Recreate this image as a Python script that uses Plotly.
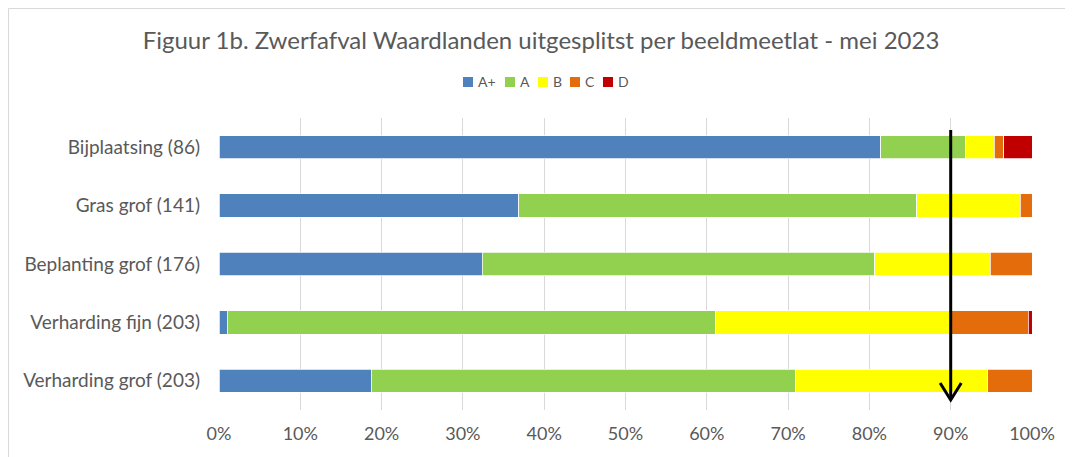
import plotly.graph_objects as go

# categorieen (van boven naar beneden) en aantallen per beeldmeetlat
categorieen = ["Bijplaatsing (86)", "Gras grof (141)", "Beplanting grof (176)",
               "Verharding fijn (203)", "Verharding grof (203)"]
a_plus = [70, 52, 57, 2, 38]
a = [9, 69, 85, 122, 106]
b = [3, 18, 25, 59, 48]
c = [1, 2, 9, 19, 11]
d = [3, 0, 0, 1, 0]

reeksen = [("A+", a_plus, "#4F81BD"), ("A", a, "#92D050"), ("B", b, "#FFFF00"),
           ("C", c, "#E46C0A"), ("D", d, "#C00000")]

tekstkleur = "#595959"
font = "Lato, 'Open Sans', sans-serif"

# plotgebied in schermpixels (pagina heeft 8px marge)
X0, X1, Y0, Y1 = 219, 1032, 118, 410


def px(sx):
    return (sx - X0) / (X1 - X0)


def py(sy):
    return (Y1 - sy) / (Y1 - Y0)


fig = go.Figure()
for naam, waarden, kleur in reeksen:
    fig.add_trace(go.Bar(y=categorieen, x=waarden, name=naam, orientation="h",
                         showlegend=False,
                         marker=dict(color=kleur, line=dict(color="white", width=0.75))))

fig.update_layout(
    barmode="stack", barnorm="percent", bargap=0.6,
    width=1073, height=457,
    margin=dict(l=X0 - 8, r=1073 - X1 + 8, t=Y0 - 8, b=457 - Y1 + 8, autoexpand=False),
    plot_bgcolor="white", paper_bgcolor="white",
    font=dict(family=font, color=tekstkleur),
    title=dict(text="Figuur 1b. Zwerfafval Waardlanden uitgesplitst per beeldmeetlat - mei 2023",
               x=px(541), xref="paper", xanchor="center",
               y=1 - 33 / 457, yanchor="middle",
               font=dict(size=24, color=tekstkleur)),
    xaxis=dict(range=[0, 100], dtick=10, ticksuffix="%", showgrid=True,
               gridcolor="#D9D9D9", gridwidth=1, zeroline=False, tickangle=0,
               tickfont=dict(size=18, color=tekstkleur), ticks="", ticklen=0,
               ticklabelstandoff=11),
    yaxis=dict(autorange="reversed", tickfont=dict(size=19, color=tekstkleur),
               ticks="", ticklabelstandoff=18, showgrid=False, zeroline=False),
)

# handmatige legenda (compact, zoals in Excel)
legenda_x = [463, 505, 538, 570, 603]
for (naam, _, kleur), lx in zip(reeksen, legenda_x):
    fig.add_shape(type="rect", xref="paper", yref="paper",
                  x0=px(lx), x1=px(lx + 10), y0=py(87), y1=py(77),
                  fillcolor=kleur, line=dict(width=0))
    fig.add_annotation(text=naam, xref="paper", yref="paper", x=px(lx + 13), y=py(82),
                       xanchor="left", yanchor="middle", showarrow=False,
                       font=dict(size=14, color=tekstkleur))

# norm-pijl op 90%
fig.add_shape(type="line", xref="x", yref="paper", x0=90, x1=90, y0=py(399), y1=py(130),
              line=dict(color="black", width=3))
fig.add_shape(type="path", xref="x", yref="paper",
              path=f"M 88.7,{py(383)} L 90,{py(400)} L 91.3,{py(383)}",
              line=dict(color="black", width=3))

# kader rond de grafiek
fig.add_shape(type="rect", xref="paper", yref="paper", x0=px(8.5), x1=px(1066),
              y0=py(470), y1=py(8.5), line=dict(color="#D9D9D9", width=1), layer="below")

fig.write_html("out.html")
